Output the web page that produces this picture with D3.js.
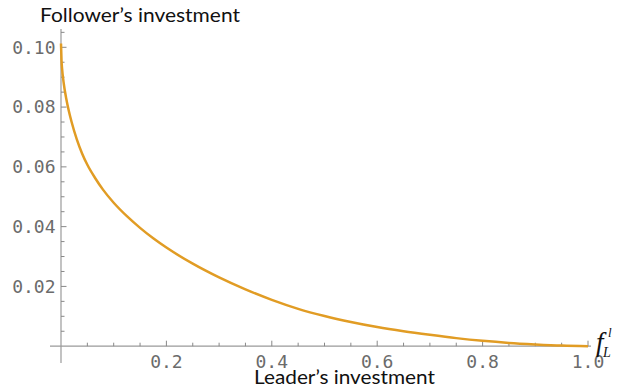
<!DOCTYPE html>
<head>
    <meta charset="utf-8">
    <title>Follower vs leader investment</title>
    <style>
        body { margin: 0; background: #fff; }
        .tick-label { font-family: "DejaVu Sans Mono", monospace; font-size: 18px; fill: #6b6b6b; }
        .title { font-family: Lato, "Open Sans", sans-serif; font-size: 18.5px; fill: #111; }
    </style>
</head>
<body>

<script src="https://cdnjs.cloudflare.com/ajax/libs/d3/7.8.5/d3.min.js"></script>

<script>

    // leader's investment (x) and follower's investment (y)
    const leader = [0, 0.001, 0.002, 0.005, 0.01, 0.015, 0.02, 0.03, 0.04, 0.05, 0.065, 0.08,
                    0.1, 0.125, 0.15, 0.175, 0.2, 0.25, 0.3, 0.35, 0.4, 0.45, 0.5, 0.55,
                    0.6, 0.65, 0.7, 0.75, 0.8, 0.85, 0.9, 0.95, 1.0];
    const follower = [0.1013, 0.0955, 0.0930, 0.0882, 0.0828, 0.0786, 0.0751, 0.0692, 0.0645,
                      0.0607, 0.0562, 0.0523, 0.0480, 0.0435, 0.0396, 0.0361, 0.0330, 0.0276,
                      0.0230, 0.0190, 0.0155, 0.0125, 0.0101, 0.0081, 0.0064, 0.0050, 0.0038,
                      0.0027, 0.0018, 0.0011, 0.0006, 0.0002, 0.0];

    const xMajor = [0.2, 0.4, 0.6, 0.8, 1.0];
    const yMajor = [0.02, 0.04, 0.06, 0.08, 0.10];
    const xMinor = d3.range(1, 21).map(i => i * 0.05);
    const yMinor = d3.range(1, 22).map(i => i * 0.005);

    const width = 618, height = 390;

    const x = d3.scaleLinear().domain([0, 1]).range([61, 588]);
    const y = d3.scaleLinear().domain([0, 0.1]).range([346.2, 47.3]);

    const svg = d3.select('body').append('svg')
        .attr('width', width)
        .attr('height', height);

    const axisColor = '#9a9a9a';

    // axis lines, crossing a little past the origin like Mathematica does
    svg.append('line')
        .attr('x1', 50).attr('x2', 591)
        .attr('y1', y(0)).attr('y2', y(0))
        .attr('stroke', axisColor).attr('stroke-width', 1.2);

    svg.append('line')
        .attr('x1', x(0)).attr('x2', x(0))
        .attr('y1', 29).attr('y2', 363)
        .attr('stroke', axisColor).attr('stroke-width', 1.2);

    // x ticks (pointing up into the plot)
    svg.selectAll('.xtick')
        .data(xMinor)
        .enter().append('line')
        .attr('class', 'xtick')
        .attr('x1', d => x(d)).attr('x2', d => x(d))
        .attr('y1', y(0))
        .attr('y2', (d, i) => y(0) - ((i + 1) % 4 === 0 ? 5.5 : 3.5))
        .attr('stroke', '#888').attr('stroke-width', 1);

    // y ticks (pointing right)
    svg.selectAll('.ytick')
        .data(yMinor)
        .enter().append('line')
        .attr('class', 'ytick')
        .attr('y1', d => y(d)).attr('y2', d => y(d))
        .attr('x1', x(0))
        .attr('x2', (d, i) => x(0) + ((i + 1) % 4 === 0 ? 5.5 : 3.5))
        .attr('stroke', '#888').attr('stroke-width', 1);

    svg.selectAll('.xlabel')
        .data(xMajor)
        .enter().append('text')
        .attr('class', 'tick-label')
        .attr('x', d => x(d))
        .attr('y', 362)
        .attr('dy', '0.35em')
        .style('text-anchor', 'middle')
        .text(d => d3.format('.1f')(d));

    svg.selectAll('.ylabel')
        .data(yMajor)
        .enter().append('text')
        .attr('class', 'tick-label')
        .attr('x', 55.5)
        .attr('y', d => y(d))
        .attr('dy', '0.35em')
        .style('text-anchor', 'end')
        .text(d => d3.format('.2f')(d));

    // the curve
    const pts = leader.map((d, i) => [d, follower[i]]);
    const line = d3.line()
        .x(d => x(d[0]))
        .y(d => y(d[1]))
        .curve(d3.curveMonotoneX);

    svg.append('path')
        .datum(pts)
        .attr('d', line)
        .attr('fill', 'none')
        .attr('stroke', '#e19c24')
        .attr('stroke-width', 2.5);

    // labels
    svg.append('text')
        .attr('class', 'title')
        .attr('x', 40)
        .attr('y', 22)
        .attr('textLength', 200)
        .attr('lengthAdjust', 'spacingAndGlyphs')
        .text('Follower\u2019s investment');

    svg.append('text')
        .attr('class', 'title')
        .attr('x', 254)
        .attr('y', 384)
        .attr('textLength', 181)
        .attr('lengthAdjust', 'spacingAndGlyphs')
        .text('Leader\u2019s investment');

    const serif = '"Liberation Serif", "DejaVu Serif", serif';
    svg.append('text')
        .attr('x', 596).attr('y', 351)
        .style('font-family', serif).style('font-style', 'italic')
        .style('font-size', '27px').attr('fill', '#111')
        .text('f');
    svg.append('text')
        .attr('x', 603).attr('y', 357)
        .style('font-family', serif).style('font-style', 'italic')
        .style('font-size', '14px').attr('fill', '#111')
        .text('L');
    svg.append('text')
        .attr('x', 608).attr('y', 337)
        .style('font-family', serif).style('font-style', 'italic')
        .style('font-size', '13px').attr('fill', '#111')
        .text('l');

</script>

</body>
